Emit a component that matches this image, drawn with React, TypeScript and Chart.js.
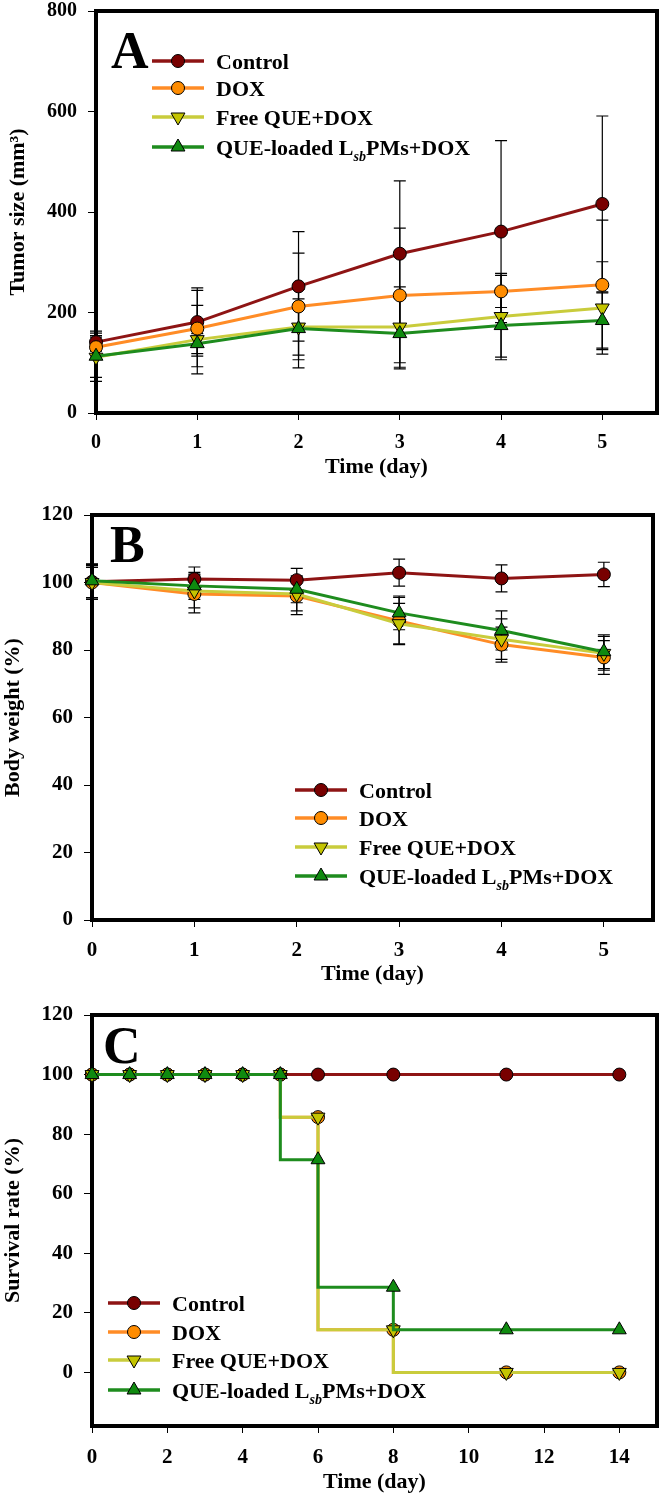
import React, { useEffect, useRef } from 'react';
import { Chart, registerables } from 'chart.js';

Chart.register(...registerables);

const FONT = '"Liberation Serif", "Times New Roman", Times, serif';

// ---------- series labels ----------
const seriesLabels = ['Control', 'DOX', 'Free QUE+DOX', 'QUE-loaded LsbPMs+DOX'];

// ---------- Panel A: tumor size ----------
const daysA = [0, 1, 2, 3, 4, 5];
const tumorControl = [141, 181, 252, 317, 361, 416];
const tumorControlErr = [18, 68, 109, 145, 181, 175];
const tumorDox = [131, 168, 212, 234, 242, 255];
const tumorDoxErr = [23, 76, 106, 134, 32, 129];
const tumorFree = [111, 146, 171, 171, 192, 209];
const tumorFreeErr = [40, 68, 56, 80, 86, 92];
const tumorQue = [113, 138, 168, 158, 174, 184];
const tumorQueErr = [50, 20, 78, 70, 63, 55];
const ticksAX = [0, 1, 2, 3, 4, 5];
const ticksAY = [0, 200, 400, 600, 800];

// ---------- Panel B: body weight ----------
const daysB = [0, 1, 2, 3, 4, 5];
const weightControl = [100.2, 101.0, 100.7, 102.9, 101.2, 102.4];
const weightControlErr = [5.2, 3.6, 3.5, 4.0, 4.0, 3.6];
const weightDox = [100.0, 96.6, 96.0, 88.6, 81.6, 77.8];
const weightDoxErr = [5.0, 5.6, 5.5, 7.0, 5.2, 5.0];
const weightFree = [100.0, 97.5, 96.6, 87.8, 83.2, 79.0];
const weightFreeErr = [4.5, 5.0, 5.0, 6.0, 6.0, 5.0];
const weightQue = [100.5, 99.0, 98.0, 91.0, 85.8, 79.5];
const weightQueErr = [5.0, 4.0, 4.0, 5.0, 5.8, 5.0];
const ticksBX = [0, 1, 2, 3, 4, 5];
const ticksBY = [0, 20, 40, 60, 80, 100, 120];

// ---------- Panel C: survival ----------
const daysC = [0, 1, 2, 3, 4, 5, 6, 8, 11, 14];
const survControl = [100, 100, 100, 100, 100, 100, 100, 100, 100, 100];
const survDox = [100, 100, 100, 100, 100, 100, 85.7, 14.3, 0, 0];
const survFree = [100, 100, 100, 100, 100, 100, 85.7, 14.3, 0, 0];
const survQue = [100, 100, 100, 100, 100, 100, 71.4, 28.6, 14.3, 14.3];
const ticksCX = [0, 2, 4, 6, 8, 10, 12, 14];
const ticksCY = [0, 20, 40, 60, 80, 100, 120];

// ---------- styles ----------
const STYLES = [
  { line: '#8E1414', fill: '#780000', shape: 'circle' },
  { line: '#FF8C26', fill: '#FF8C00', shape: 'circle' },
  { line: '#C9CC3C', fill: '#C4C400', shape: 'down' },
  { line: '#1E8C1E', fill: '#0F8A0F', shape: 'up' },
];

type Layout = {
  top: number;
  height: number;
  padTop: number;
  padRight: number;
  yAxisWidth: number;
  xAxisHeight: number;
  tickFont: number;
  xTickPad: number;
  xTitlePadBottom: number;
  yTitlePadTop: number;
  letter: string;
  letterX: number;
  letterY: number;
  legendLineX0: number;
  legendLineX1: number;
  legendMarkerX: number;
  legendTextX: number;
  legendRows: number[];
};

type Panel = {
  xs: number[];
  values: number[][];
  errors: number[][] | null;
  stepped: boolean;
  xMin: number;
  xMax: number;
  yMin: number;
  yMax: number;
  xTicks: number[];
  yTicks: number[];
  yTitle: string;
  layout: Layout;
};

const CIRCLE_R = 6.5;
const TRI_R = 8;

function drawMarker(ctx: CanvasRenderingContext2D, x: number, y: number, i: number) {
  const s = STYLES[i];
  ctx.save();
  ctx.fillStyle = s.fill;
  ctx.strokeStyle = '#000';
  ctx.lineWidth = 1;
  ctx.beginPath();
  if (s.shape === 'circle') {
    ctx.arc(x, y, CIRCLE_R, 0, Math.PI * 2);
  } else {
    const dir = s.shape === 'up' ? 1 : -1;
    for (let k = 0; k < 3; k++) {
      const a = (k * 2 * Math.PI) / 3;
      const px = x + Math.sin(a) * TRI_R;
      const py = y - dir * Math.cos(a) * TRI_R;
      if (k === 0) ctx.moveTo(px, py);
      else ctx.lineTo(px, py);
    }
    ctx.closePath();
  }
  ctx.fill();
  ctx.stroke();
  ctx.restore();
}

function drawLegend(ctx: CanvasRenderingContext2D, L: Layout) {
  ctx.save();
  for (let i = 0; i < 4; i++) {
    const y = L.legendRows[i];
    ctx.strokeStyle = STYLES[i].line;
    ctx.lineWidth = 3.5;
    ctx.beginPath();
    ctx.moveTo(L.legendLineX0, y);
    ctx.lineTo(L.legendLineX1, y);
    ctx.stroke();
    drawMarker(ctx, L.legendMarkerX, y, i);
    ctx.fillStyle = '#000';
    ctx.textBaseline = 'alphabetic';
    ctx.textAlign = 'left';
    const base = y + 7.5;
    if (i < 3) {
      ctx.font = `bold 22px ${FONT}`;
      ctx.fillText(seriesLabels[i], L.legendTextX, base);
    } else {
      ctx.font = `bold 22px ${FONT}`;
      const p1 = 'QUE-loaded L';
      ctx.fillText(p1, L.legendTextX, base);
      let x = L.legendTextX + ctx.measureText(p1).width;
      ctx.font = `italic bold 14px ${FONT}`;
      const sub = 'sb';
      ctx.fillText(sub, x, base + 6);
      x += ctx.measureText(sub).width;
      ctx.font = `bold 22px ${FONT}`;
      ctx.fillText('PMs+DOX', x, base);
    }
  }
  // panel letter
  ctx.fillStyle = '#000';
  ctx.font = `bold 52px ${FONT}`;
  ctx.textBaseline = 'alphabetic';
  ctx.textAlign = 'left';
  ctx.fillText(L.letter, L.letterX, L.letterY);
  ctx.restore();
}

function buildChart(canvas: HTMLCanvasElement, p: Panel) {
  const L = p.layout;
  const datasets = p.values.map((vals, i) => {
    const s = STYLES[i];
    return {
      label: seriesLabels[i],
      data: p.xs.map((x, j) => ({ x, y: vals[j] })),
      errorBars: p.errors ? p.errors[i] : null,
      borderColor: s.line,
      backgroundColor: s.fill,
      borderWidth: 3,
      pointStyle: s.shape === 'circle' ? 'circle' : 'triangle',
      pointRotation: s.shape === 'down' ? 180 : 0,
      pointRadius: s.shape === 'circle' ? CIRCLE_R : TRI_R,
      pointBackgroundColor: s.fill,
      pointBorderColor: '#000',
      pointBorderWidth: 1,
      stepped: p.stepped ? 'after' : false,
      tension: 0,
      clip: false,
      order: 4 - i,
    };
  });

  const decor = {
    id: 'decor',
    beforeDatasetsDraw(chart: any) {
      const { ctx, chartArea: a, scales } = chart;
      ctx.save();
      ctx.strokeStyle = '#000';
      ctx.lineWidth = 4;
      ctx.strokeRect(a.left, a.top, a.right - a.left, a.bottom - a.top);
      // error bars
      ctx.lineWidth = 1.2;
      const xs = scales.x;
      const ys = scales.y;
      chart.data.datasets.forEach((ds: any) => {
        const e = ds.errorBars;
        if (!e) return;
        ds.data.forEach((pt: any, j: number) => {
          const px = xs.getPixelForValue(pt.x);
          const hi = ys.getPixelForValue(pt.y + e[j]);
          const lo = ys.getPixelForValue(pt.y - e[j]);
          ctx.beginPath();
          ctx.moveTo(px, hi);
          ctx.lineTo(px, lo);
          ctx.moveTo(px - 6, hi);
          ctx.lineTo(px + 6, hi);
          ctx.moveTo(px - 6, lo);
          ctx.lineTo(px + 6, lo);
          ctx.stroke();
        });
      });
      ctx.restore();
    },
    afterDatasetsDraw(chart: any) {
      drawLegend(chart.ctx, L);
    },
  };

  const tickFont = { family: FONT, size: L.tickFont, weight: 'bold' as const };
  const titleFont = { family: FONT, size: 22, weight: 'bold' as const };

  return new Chart(canvas, {
    type: 'line',
    data: { datasets: datasets as any },
    options: {
      animation: false,
      responsive: false,
      devicePixelRatio: 1,
      events: [],
      layout: { padding: { top: L.padTop, right: L.padRight, left: 0, bottom: 0 } },
      plugins: { legend: { display: false }, tooltip: { enabled: false } },
      scales: {
        x: {
          type: 'linear',
          min: p.xMin,
          max: p.xMax,
          afterBuildTicks: (s: any) => {
            s.ticks = p.xTicks.map((v) => ({ value: v }));
          },
          afterFit: (s: any) => {
            s.height = L.xAxisHeight;
            s.paddingLeft = 0;
            s.paddingRight = 0;
            s.paddingTop = 0;
            s.paddingBottom = 0;
          },
          grid: { display: true, drawOnChartArea: false, drawTicks: true, tickLength: 7, color: '#000', lineWidth: 1 },
          border: { display: false },
          ticks: {
            color: '#000',
            font: tickFont,
            padding: L.xTickPad,
            maxRotation: 0,
            autoSkip: false,
            callback: (v: any) => String(v),
          },
          title: {
            display: true,
            text: 'Time (day)',
            color: '#000',
            font: titleFont,
            padding: { top: 0, bottom: L.xTitlePadBottom },
          },
        },
        y: {
          type: 'linear',
          min: p.yMin,
          max: p.yMax,
          afterBuildTicks: (s: any) => {
            s.ticks = p.yTicks.map((v) => ({ value: v }));
          },
          afterFit: (s: any) => {
            s.width = L.yAxisWidth;
            s.paddingLeft = 0;
            s.paddingRight = 0;
            s.paddingTop = 0;
            s.paddingBottom = 0;
          },
          grid: { display: true, drawOnChartArea: false, drawTicks: true, tickLength: 8, color: '#000', lineWidth: 1 },
          border: { display: false },
          ticks: {
            color: '#000',
            font: tickFont,
            padding: 11,
            autoSkip: false,
            callback: (v: any) => String(v),
          },
          title: {
            display: true,
            text: p.yTitle,
            color: '#000',
            font: titleFont,
            padding: { top: L.yTitlePadTop, bottom: 0 },
          },
        },
      },
    } as any,
    plugins: [decor],
  });
}

const panelA: Panel = {
  xs: daysA,
  values: [tumorControl, tumorDox, tumorFree, tumorQue],
  errors: [tumorControlErr, tumorDoxErr, tumorFreeErr, tumorQueErr],
  stepped: false,
  xMin: 0,
  xMax: 5.54,
  yMin: 0,
  yMax: 800,
  xTicks: ticksAX,
  yTicks: ticksAY,
  yTitle: 'Tumor size (mm³)',
  layout: {
    top: 0,
    height: 490,
    padTop: 11,
    padRight: 8,
    yAxisWidth: 96,
    xAxisHeight: 77,
    tickFont: 20,
    xTickPad: 11,
    xTitlePadBottom: 9.8,
    yTitlePadTop: 4.8,
    letter: 'A',
    letterX: 111,
    letterY: 68,
    legendLineX0: 152,
    legendLineX1: 204,
    legendMarkerX: 178,
    legendTextX: 216,
    legendRows: [61, 88, 117, 147],
  },
};

const panelB: Panel = {
  xs: daysB,
  values: [weightControl, weightDox, weightFree, weightQue],
  errors: [weightControlErr, weightDoxErr, weightFreeErr, weightQueErr],
  stepped: false,
  xMin: 0,
  xMax: 5.48,
  yMin: 0,
  yMax: 120,
  xTicks: ticksBX,
  yTicks: ticksBY,
  yTitle: 'Body weight (%)',
  layout: {
    top: 490,
    height: 500,
    padTop: 25,
    padRight: 13,
    yAxisWidth: 92,
    xAxisHeight: 70,
    tickFont: 21,
    xTickPad: 11,
    xTitlePadBottom: 2.8,
    yTitlePadTop: 0,
    letter: 'B',
    letterX: 110,
    letterY: 72,
    legendLineX0: 295,
    legendLineX1: 347,
    legendMarkerX: 321,
    legendTextX: 359,
    legendRows: [300, 328, 357, 386],
  },
};

const panelC: Panel = {
  xs: daysC,
  values: [survControl, survDox, survFree, survQue],
  errors: null,
  stepped: true,
  xMin: 0,
  xMax: 15,
  yMin: -18,
  yMax: 120,
  xTicks: ticksCX,
  yTicks: ticksCY,
  yTitle: 'Survival rate (%)',
  layout: {
    top: 990,
    height: 506,
    padTop: 25,
    padRight: 6,
    yAxisWidth: 92,
    xAxisHeight: 70,
    tickFont: 21,
    xTickPad: 12,
    xTitlePadBottom: 0,
    yTitlePadTop: 0,
    letter: 'C',
    letterX: 103,
    letterY: 73,
    legendLineX0: 108,
    legendLineX1: 160,
    legendMarkerX: 134,
    legendTextX: 172,
    legendRows: [313, 342, 370, 400],
  },
};

const PANELS = [panelA, panelB, panelC];

export default function App() {
  const refA = useRef<HTMLCanvasElement | null>(null);
  const refB = useRef<HTMLCanvasElement | null>(null);
  const refC = useRef<HTMLCanvasElement | null>(null);

  useEffect(() => {
    const refs = [refA, refB, refC];
    const charts = PANELS.map((p, i) => buildChart(refs[i].current as HTMLCanvasElement, p));
    return () => charts.forEach((c) => c.destroy());
  }, []);

  const refs = [refA, refB, refC];
  return (
    <div style={{ position: 'absolute', left: 0, top: 0, width: 666, height: 1496, background: '#fff' }}>
      {PANELS.map((p, i) => (
        <canvas
          key={i}
          ref={refs[i]}
          width={666}
          height={p.layout.height}
          style={{ position: 'absolute', left: 0, top: p.layout.top, width: 666, height: p.layout.height, display: 'block' }}
        />
      ))}
    </div>
  );
}
